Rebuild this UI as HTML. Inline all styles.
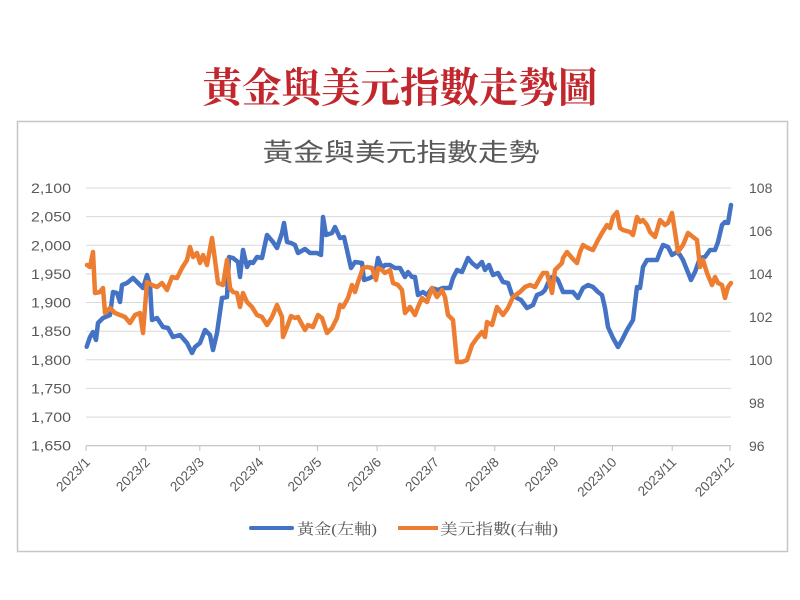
<!DOCTYPE html>
<html>
<head>
<meta charset="utf-8">
<style>
html,body{margin:0;padding:0;background:#fff;}
svg{display:block;}
</style>
</head>
<body>
<svg width="800" height="600" viewBox="0 0 800 600" xmlns="http://www.w3.org/2000/svg">
<rect width="800" height="600" fill="#ffffff"/>
<!-- Main title -->
<text x="400" y="102" text-anchor="middle" font-family="'Liberation Serif','Noto Serif CJK SC',serif" font-weight="bold" font-size="41" fill="#c1272d" textLength="395" lengthAdjust="spacingAndGlyphs">黃金與美元指數走勢圖</text>
<!-- Chart box -->
<rect x="17.5" y="121.5" width="770" height="430" fill="#fff" stroke="#c6c6c6" stroke-width="1.5"/>
<!-- Chart title -->
<text x="401" y="161" text-anchor="middle" font-family="'Liberation Sans','Noto Sans CJK TC',sans-serif" font-size="25" fill="#595959" textLength="277" lengthAdjust="spacingAndGlyphs">黃金與美元指數走勢</text>
<!-- Gridlines -->
<g stroke="#d9d9d9" stroke-width="1">
<line x1="86" y1="188" x2="731" y2="188"/>
<line x1="86" y1="216.6" x2="731" y2="216.6"/>
<line x1="86" y1="245.3" x2="731" y2="245.3"/>
<line x1="86" y1="273.9" x2="731" y2="273.9"/>
<line x1="86" y1="302.5" x2="731" y2="302.5"/>
<line x1="86" y1="331.2" x2="731" y2="331.2"/>
<line x1="86" y1="359.8" x2="731" y2="359.8"/>
<line x1="86" y1="388.4" x2="731" y2="388.4"/>
<line x1="86" y1="417.1" x2="731" y2="417.1"/>
</g>
<line x1="86" y1="445.7" x2="731" y2="445.7" stroke="#bfbfbf" stroke-width="1.2"/>
<g stroke="#bfbfbf" stroke-width="1">
<line x1="86" y1="446" x2="86" y2="451"/>
<line x1="145.8" y1="446" x2="145.8" y2="451"/>
<line x1="199.8" y1="446" x2="199.8" y2="451"/>
<line x1="259.5" y1="446" x2="259.5" y2="451"/>
<line x1="317.4" y1="446" x2="317.4" y2="451"/>
<line x1="377.1" y1="446" x2="377.1" y2="451"/>
<line x1="435" y1="446" x2="435" y2="451"/>
<line x1="494.8" y1="446" x2="494.8" y2="451"/>
<line x1="554.5" y1="446" x2="554.5" y2="451"/>
<line x1="612.4" y1="446" x2="612.4" y2="451"/>
<line x1="672.2" y1="446" x2="672.2" y2="451"/>
<line x1="730" y1="446" x2="730" y2="451"/>
</g>
<!-- Left axis labels -->
<g font-family="'Liberation Sans',sans-serif" font-size="14" fill="#595959" text-anchor="end">
<text x="71" y="193" textLength="40" lengthAdjust="spacingAndGlyphs">2,100</text>
<text x="71" y="221.6" textLength="40" lengthAdjust="spacingAndGlyphs">2,050</text>
<text x="71" y="250.3" textLength="40" lengthAdjust="spacingAndGlyphs">2,000</text>
<text x="71" y="278.9" textLength="40" lengthAdjust="spacingAndGlyphs">1,950</text>
<text x="71" y="307.5" textLength="40" lengthAdjust="spacingAndGlyphs">1,900</text>
<text x="71" y="336.2" textLength="40" lengthAdjust="spacingAndGlyphs">1,850</text>
<text x="71" y="364.8" textLength="40" lengthAdjust="spacingAndGlyphs">1,800</text>
<text x="71" y="393.4" textLength="40" lengthAdjust="spacingAndGlyphs">1,750</text>
<text x="71" y="422.1" textLength="40" lengthAdjust="spacingAndGlyphs">1,700</text>
<text x="71" y="450.7" textLength="40" lengthAdjust="spacingAndGlyphs">1,650</text>
</g>
<!-- Right axis labels -->
<g font-family="'Liberation Sans',sans-serif" font-size="14" fill="#595959">
<text x="749" y="193">108</text>
<text x="749" y="236">106</text>
<text x="749" y="279">104</text>
<text x="749" y="322">102</text>
<text x="749" y="365">100</text>
<text x="749" y="408">98</text>
<text x="749" y="451">96</text>
</g>
<!-- X axis labels -->
<g font-family="'Liberation Sans',sans-serif" font-size="13.5" fill="#595959" text-anchor="end">
<text transform="translate(91,463) rotate(-45)">2023/1</text>
<text transform="translate(150.8,463) rotate(-45)">2023/2</text>
<text transform="translate(204.8,463) rotate(-45)">2023/3</text>
<text transform="translate(264.5,463) rotate(-45)">2023/4</text>
<text transform="translate(322.4,463) rotate(-45)">2023/5</text>
<text transform="translate(382.1,463) rotate(-45)">2023/6</text>
<text transform="translate(440,463) rotate(-45)">2023/7</text>
<text transform="translate(499.8,463) rotate(-45)">2023/8</text>
<text transform="translate(559.5,463) rotate(-45)">2023/9</text>
<text transform="translate(617.4,463) rotate(-45)">2023/10</text>
<text transform="translate(677.2,463) rotate(-45)">2023/11</text>
<text transform="translate(735,463) rotate(-45)">2023/12</text>
</g>
<!-- Gold series -->
<polyline fill="none" stroke="#4472c4" stroke-width="4.5" stroke-linejoin="round" stroke-linecap="round" points="86.7,346.7 90,337 93,332 96,340 98,323 103,318 110,315 113,292 117,293 120,302 122,285 127,283 133,278 138,283 143,288 147,275 150,285 152,320 157,318 163,327 168,328 173,337 180,335 187,343 192,353 195,347 200,343 205,330 210,335 213,350 217,333 222,298 227,297 229,257 233,258 238,262 240,277 243,250 247,267 250,262 253,263 257,257 262,258 267,235 273,242 277,248 282,233 284,223 287,242 291,243 295,245 298,253 305,249 310,253 317,253 321,255 323,217 326,235 332,233 335,227 340,238 344,237 347,250 351,268 355,262 362,263 364,280 370,278 375,275 378,258 382,268 385,265 390,265 395,268 400,268 405,277 408,272 412,277 415,277 418,295 423,292 427,295 432,288 438,290 443,288 450,288 453,278 457,270 462,272 465,265 468,258 472,263 477,267 482,262 485,270 489,265 493,275 498,273 503,282 508,283 512,295 517,298 521,300 527,308 533,305 537,295 542,293 545,290 548,283 552,277 555,277 558,280 563,292 568,292 573,292 578,298 583,288 588,285 593,287 598,292 602,295 605,308 608,327 613,338 618,347 622,340 627,330 633,320 637,287 640,288 643,267 647,260 652,260 657,260 660,252 663,245 668,247 672,255 677,252 680,255 683,260 687,270 691,280 695,272 700,258 705,257 710,250 715,250 718,242 722,225 725,222 728,223 731,205"/>
<!-- USD index series -->
<polyline fill="none" stroke="#ed7d31" stroke-width="4.5" stroke-linejoin="round" stroke-linecap="round" points="87,265 90,267 93,252 95,293 100,292 103,288 105,313 110,308 115,313 120,315 125,317 130,323 135,315 140,313 143,333 147,282 152,285 157,287 162,283 167,290 172,277 177,278 182,268 187,260 190,247 193,257 197,253 200,263 203,255 207,265 212,238 215,260 218,283 223,285 227,260 230,288 233,292 237,293 240,307 243,293 247,302 252,307 257,315 262,317 267,325 272,317 277,305 282,317 283,337 287,327 291,316 295,318 298,317 305,330 308,325 313,327 318,315 322,318 327,333 332,328 337,318 340,305 343,307 348,298 352,285 355,292 358,282 363,268 367,267 372,268 376,280 378,268 382,270 385,273 390,270 393,283 398,285 402,290 405,313 410,307 415,315 418,307 422,298 427,302 432,288 437,297 442,290 445,297 448,315 453,320 457,362 462,362 467,360 472,345 477,338 482,332 485,337 487,322 492,325 497,307 503,315 508,308 513,297 520,292 525,287 530,285 535,287 540,278 543,273 547,273 552,293 555,270 558,267 562,263 563,258 567,252 572,258 577,263 580,252 583,245 588,248 593,250 598,240 602,233 607,225 610,228 613,217 617,212 620,228 623,230 630,232 633,235 637,217 640,222 643,220 647,225 650,232 655,237 660,220 665,225 668,223 672,213 675,232 678,252 683,245 688,233 693,237 697,240 700,267 703,260 707,273 712,285 715,277 718,283 722,285 725,298 728,287 731,283"/>
<!-- Legend -->
<line x1="251" y1="528" x2="292" y2="528" stroke="#4472c4" stroke-width="4" stroke-linecap="round"/>
<text x="297" y="534" font-family="'Liberation Serif','Noto Serif CJK SC',serif" font-size="15" fill="#595959" textLength="80" lengthAdjust="spacingAndGlyphs">黃金(左軸)</text>
<line x1="398" y1="528" x2="438" y2="528" stroke="#ed7d31" stroke-width="4"/>
<text x="440" y="534" font-family="'Liberation Serif','Noto Serif CJK SC',serif" font-size="15" fill="#595959" textLength="118" lengthAdjust="spacingAndGlyphs">美元指數(右軸)</text>
</svg>
</body>
</html>
